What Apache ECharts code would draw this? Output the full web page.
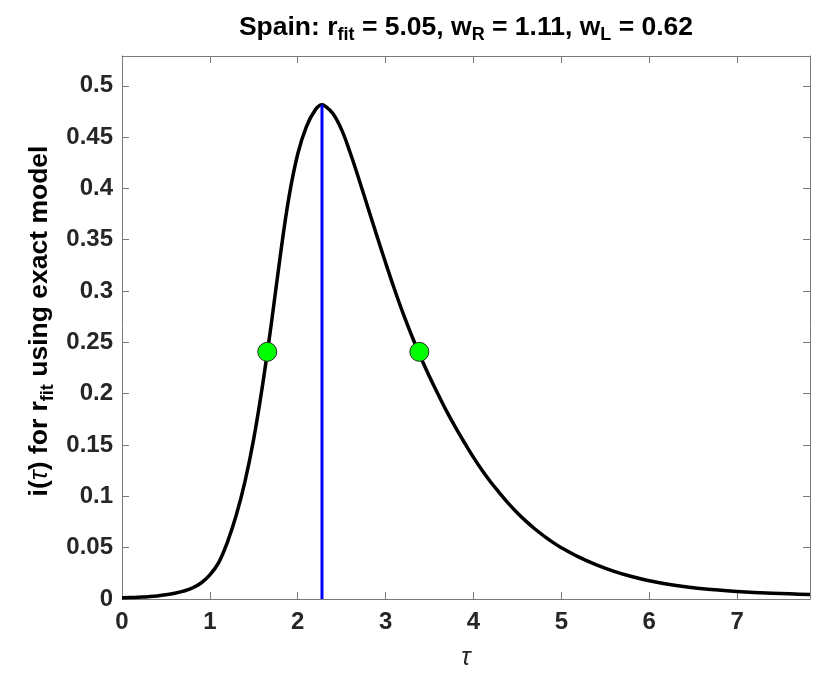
<!DOCTYPE html>
<html>
<head>
<meta charset="utf-8">
<script src="https://cdn.jsdelivr.net/npm/echarts@6/dist/echarts.min.js"></script>
<style>
  html, body { margin: 0; padding: 0; background: #fff; }
  #chart { width: 821px; height: 691px; }
</style>
</head>
<body>
<div id="chart"></div>
<script>
// Infection curve i(tau) for the fitted growth rate
const tauValues = [
  0, 0.1, 0.2, 0.3, 0.4, 0.5, 0.6, 0.7, 0.8, 0.9,
  1.0, 1.1, 1.2, 1.3, 1.4, 1.5, 1.6, 1.7, 1.8, 1.9,
  2.0, 2.1, 2.2, 2.276, 2.3, 2.4, 2.5, 2.6, 2.7, 2.8, 2.9,
  3.0, 3.1, 3.2, 3.3, 3.4, 3.5, 3.6, 3.7, 3.8, 3.9,
  4.0, 4.1, 4.2, 4.3, 4.4, 4.5, 4.6, 4.7, 4.8, 4.9,
  5.0, 5.2, 5.4, 5.6, 5.8, 6.0, 6.25, 6.5, 6.75, 7.0, 7.4, 7.83
];
const infectedValues = [
  0.0012, 0.0014, 0.0018, 0.0023, 0.003, 0.0041, 0.0056, 0.0077, 0.0107, 0.0156,
  0.0235, 0.0355, 0.0555, 0.0815, 0.1145, 0.1565, 0.2085, 0.2685, 0.3335, 0.3915,
  0.4335, 0.4605, 0.4765, 0.4815, 0.481, 0.473, 0.457, 0.434, 0.408, 0.381, 0.354,
  0.3275, 0.302, 0.278, 0.256, 0.2355, 0.2165, 0.199, 0.182, 0.1665, 0.152,
  0.138, 0.1252, 0.1135, 0.103, 0.0929, 0.0838, 0.0756, 0.0682, 0.0615, 0.0554,
  0.05, 0.0408, 0.0333, 0.027, 0.0219, 0.0178, 0.0139, 0.011, 0.0089, 0.0073, 0.0056, 0.0044
];

// Peak of the curve (blue marker line)
const peakTau = 2.276;
const peakValue = 0.4815;

// Half-maximum points (green dots)
const halfTau = [1.653, 3.384];
const halfValue = [0.2408, 0.2408];

// Axis ranges and tick spacing
const xMin = 0, xMax = 7.83, xStep = 1;
const yMin = 0, yMax = 0.529, yStep = 0.05;

const textColor = '#262626';
const axisColor = '#7a7a7a';
const fontFamily = '"Liberation Sans", Arial, Helvetica, sans-serif';

const curveData = tauValues.map((t, i) => [t, infectedValues[i]]);
const peakData = [[peakTau, 0], [peakTau, peakValue]];
const halfData = halfTau.map((t, i) => [t, halfValue[i]]);

const gridLeft = 122, gridTop = 56, gridRight = 11, gridBottom = 92;

function axisBase() {
  return {
    axisLine: { show: true, onZero: false, lineStyle: { color: axisColor, width: 1 } },
    axisTick: { show: true, inside: true, length: 7, lineStyle: { color: axisColor, width: 1 } },
    splitLine: { show: false }
  };
}

const mainBold = { fontSize: 26.5, fontWeight: 'bold', fontFamily, color: textColor, lineHeight: 34, verticalAlign: 'middle' };
const subBold = { fontSize: 18, fontWeight: 'bold', fontFamily, color: textColor, lineHeight: 6, verticalAlign: 'bottom' };
const tauItalic = { fontSize: 26.5, fontStyle: 'italic', fontFamily, color: textColor, lineHeight: 34, verticalAlign: 'middle' };
const tickFont = { fontSize: 24, fontWeight: 'bold', fontFamily, color: textColor };

const chart = echarts.init(document.getElementById('chart'), null, { renderer: 'canvas' });

chart.setOption({
  animation: false,
  backgroundColor: '#ffffff',
  grid: { left: gridLeft, top: gridTop, right: gridRight, bottom: gridBottom, containLabel: false },
  xAxis: [
    Object.assign(axisBase(), {
      type: 'value', position: 'bottom', min: xMin, max: xMax, interval: xStep,
      axisLabel: Object.assign({ show: true, showMaxLabel: false, margin: 11 }, tickFont)
    }),
    Object.assign(axisBase(), {
      type: 'value', position: 'top', min: xMin, max: xMax, interval: xStep,
      axisLabel: { show: false }
    })
  ],
  yAxis: [
    Object.assign(axisBase(), {
      type: 'value', position: 'left', min: yMin, max: yMax, interval: yStep,
      axisLabel: Object.assign({
        show: true, showMaxLabel: false, margin: 9,
        formatter: v => String(Math.round(v * 100) / 100)
      }, tickFont)
    }),
    Object.assign(axisBase(), {
      type: 'value', position: 'right', min: yMin, max: yMax, interval: yStep,
      axisLabel: { show: false }
    })
  ],
  graphic: [
    {
      type: 'text', x: 466, y: 27.5,
      style: {
        text: '{b|Spain: r}{s|fit}{b| = 5.05, w}{s|R}{b| = 1.11, w}{s|L}{b| = 0.62}',
        rich: { b: mainBold, s: subBold },
        align: 'center', verticalAlign: 'middle'
      }
    },
    {
      type: 'text', x: 40, y: 321, rotation: Math.PI / 2,
      style: {
        text: '{b|i(}{t|τ}{b|) for r}{s|fit}{b| using exact model}',
        rich: { b: mainBold, s: subBold, t: tauItalic },
        align: 'center', verticalAlign: 'middle'
      }
    },
    {
      type: 'text', x: 466, y: 658,
      style: {
        text: 'τ', fontSize: 25, fontStyle: 'italic', fontFamily, fill: textColor,
        align: 'center', verticalAlign: 'middle'
      }
    }
  ],
  series: [
    {
      type: 'line', data: curveData, xAxisIndex: 0, yAxisIndex: 0,
      showSymbol: false, smooth: 0.4,
      lineStyle: { color: '#000000', width: 3.5 }, z: 2
    },
    {
      type: 'line', data: peakData, xAxisIndex: 0, yAxisIndex: 0,
      showSymbol: false, lineStyle: { color: '#0000ff', width: 3 }, z: 3
    },
    {
      type: 'scatter', data: halfData, xAxisIndex: 0, yAxisIndex: 0,
      symbol: 'circle', symbolSize: 19,
      itemStyle: { color: '#00ff00', borderColor: '#2a2a2a', borderWidth: 1, opacity: 1 }, z: 4
    }
  ]
});
</script>
</body>
</html>
